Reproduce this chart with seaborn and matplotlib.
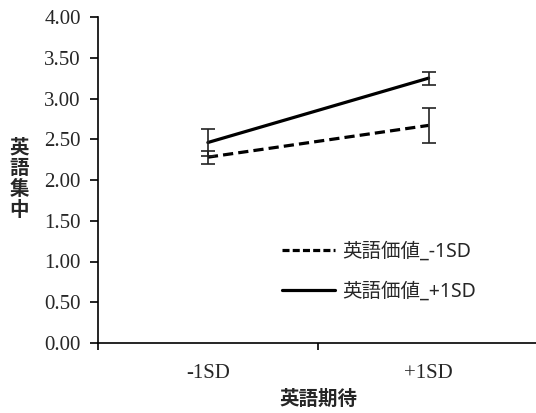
import matplotlib
matplotlib.use("Agg")
import matplotlib.pyplot as plt
import seaborn as sns
import pandas as pd
import numpy as np
from matplotlib.lines import Line2D
from matplotlib.font_manager import FontProperties

# Data
categories = ["-1SD", "+1SD"]
series_names = ["英語価値_-1SD", "英語価値_+1SD"]
low_values = [2.28, 2.67]
high_values = [2.46, 3.25]
low_err = [0.08, 0.21]
high_err = [0.16, 0.08]
y_ticks = [0.0, 0.5, 1.0, 1.5, 2.0, 2.5, 3.0, 3.5, 4.0]
x_label = "英語期待"
y_label = "英語集中"

sns.set_theme(style="white")
plt.rcParams['font.family'] = ['Noto Sans CJK JP', 'DejaVu Sans']

df = pd.DataFrame({
    "x": list(range(len(categories))) * 2,
    "y": low_values + high_values,
    "err": low_err + high_err,
    "series": [series_names[0]] * 2 + [series_names[1]] * 2,
})

fig = plt.figure(figsize=(5.36, 4.13), dpi=100)
W, H = 536, 413
ax = fig.add_axes([97.5 / W, (H - 343) / H, (539 - 97.5) / W, (343 - 17) / H])

sns.lineplot(data=df, x="x", y="y", style="series", style_order=series_names,
             dashes={series_names[0]: (3.2, 1.6), series_names[1]: ""},
             color="black", linewidth=2.3, ax=ax, legend=False)

for name in series_names:
    sub = df[df["series"] == name]
    ax.errorbar(sub["x"], sub["y"], yerr=sub["err"], fmt="none", ecolor="#222222",
                elinewidth=1.2, capsize=5, capthick=1.2, zorder=3)

ax.set_xlim(-0.5, 1.5)
ax.set_ylim(0, 4)
ax.set_xticks(range(len(categories)))
ax.set_xticklabels(categories, fontfamily="Liberation Serif", fontsize=15)
ax.set_xticks([-0.5, 0.5, 1.5], minor=True)
ax.tick_params(axis="x", which="major", length=0, pad=15)
ax.tick_params(axis="x", which="minor", length=5, width=1.2, color="black", direction="out", bottom=True)
ax.set_yticks(y_ticks)
ax.set_yticklabels([f"{v:.2f}" for v in y_ticks], fontfamily="Liberation Serif", fontsize=15)
ax.tick_params(axis="y", length=6, width=1.2, color="black", direction="out", left=True, pad=6)
for s in ["top", "right"]:
    ax.spines[s].set_visible(False)
for s in ["left", "bottom"]:
    ax.spines[s].set_color("black")
    ax.spines[s].set_linewidth(1.2)

ax.set_xlabel(x_label, fontsize=14, fontweight="bold", labelpad=5)
ax.set_ylabel("")
fig.text(19 / W, 1 - 179 / H, "\n".join(y_label), fontsize=14, fontweight="bold",
         ha="center", va="center", linespacing=1.12)

handles = [Line2D([], [], color="black", linewidth=2.3, dashes=(2.2, 1.0)),
           Line2D([], [], color="black", linewidth=2.3)]
ax.legend(handles, series_names, loc="upper left", bbox_to_anchor=(177 / 441.5, 1 - 217 / 326),
          frameon=False, handlelength=2.7, handletextpad=0.4, labelspacing=1.02,
          borderaxespad=0,
          prop=FontProperties(family=['Noto Sans', 'Noto Sans CJK JP'], size=14))

fig.savefig("out.png", dpi=100)
